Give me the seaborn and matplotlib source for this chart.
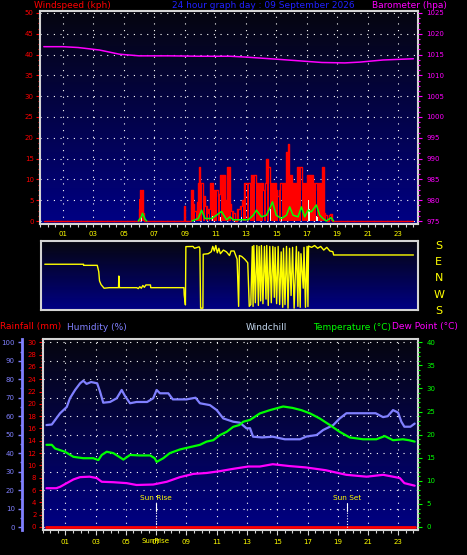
import matplotlib
matplotlib.use("Agg")
import matplotlib.pyplot as plt
from matplotlib.colors import LinearSegmentedColormap
from matplotlib.ticker import MultipleLocator
import numpy as np
import seaborn as sns

#%% data
odd_hours = [1, 3, 5, 7, 9, 11, 13, 15, 17, 19, 21, 23]
hour_labels = ['01', '03', '05', '07', '09', '11', '13', '15', '17', '19', '21', '23']

# windspeed (kph), red bars
gust_h = [-0.25, 5.95, 6.02, 6.06, 6.1, 6.15, 6.2, 6.25, 6.3, 6.35, 8.95, 9.0, 9.05, 9.4, 9.45, 9.5,
          9.56, 9.65, 9.77, 9.85, 9.93, 9.98, 10.05, 10.12, 10.2, 10.25, 10.3, 10.4, 10.5, 10.6,
          10.76, 10.82, 10.88, 10.95, 11.02, 11.1, 11.2, 11.3, 11.38, 11.45, 11.52, 11.6, 11.68,
          11.75, 11.82, 11.9, 11.96, 12.02, 12.1, 12.2, 12.35, 12.55, 12.7, 12.85, 12.94, 13.0,
          13.1, 13.2, 13.3, 13.38, 13.45, 13.52, 13.6, 13.7, 13.78, 13.85, 13.93, 14.0, 14.1, 14.2,
          14.3, 14.4, 14.46, 14.52, 14.6, 14.7, 14.78, 14.85, 14.92, 15.0, 15.1, 15.2, 15.3, 15.38,
          15.45, 15.52, 15.6, 15.67, 15.73, 15.8, 15.87, 15.95, 16.02, 16.1, 16.18, 16.25, 16.32,
          16.4, 16.48, 16.56, 16.62, 16.7, 16.77, 16.85, 16.93, 17.0, 17.08, 17.15, 17.22, 17.3,
          17.38, 17.45, 17.52, 17.6, 17.68, 17.75, 17.83, 17.9, 17.98, 18.02, 18.08, 18.15, 18.25,
          18.35, 18.45, 18.5, 18.6, 18.65, 18.7, 24.0]
gust = [0, 0, 3.0, 5.4, 7.4, 5.0, 7.4, 6.7, 2.0, 0, 0, 3.6, 0, 0, 7.4, 7.4,
        4.0, 2.5, 2.4, 4.5, 9.1, 13.0, 9.1, 9.1, 9.1, 4.5, 6.0, 3.5, 2.0, 3.0,
        9.1, 9.1, 7.4, 6.0, 7.4, 7.4, 6.0, 6.5, 11.0, 11.0, 11.0, 11.0, 5.0,
        5.0, 13.0, 13.0, 13.0, 4.0, 2.5, 2.0, 0, 3.0, 3.5, 5.0, 9.1, 9.1,
        9.1, 9.1, 9.1, 11.0, 9.1, 11.0, 11.0, 9.1, 9.1, 9.1, 7.5, 9.1, 9.1, 7.5,
        9.1, 14.8, 13.0, 13.0, 9.1, 7.5, 9.1, 7.5, 9.1, 7.5, 6.0, 7.5, 9.1, 9.1,
        9.1, 9.1, 9.1, 16.6, 16.6, 18.4, 9.1, 11.0, 11.0, 9.1, 9.1, 9.1, 9.1,
        13.0, 13.0, 13.0, 13.0, 7.5, 9.1, 7.5, 9.1, 7.5, 11.0, 11.0, 11.0, 11.0,
        11.0, 9.1, 7.5, 9.1, 9.1, 7.5, 9.1, 9.1, 7.5, 13.0, 13.0, 2.0, 1.5,
        0, 0, 1.5, 1.8, 1.5, 0, 0]

# average wind (green line), morning and midday spells
avg_am_h = [5.95, 6.05, 6.15, 6.22, 6.3, 6.4, 6.5]
avg_am = [0, 0.5, 1.0, 1.85, 1.2, 0.4, 0]
avg_pm_h = [9.47, 9.88, 10.1, 10.32, 10.76, 11.08, 11.41, 11.74, 11.96, 12.17, 13.16, 13.49, 13.7,
            14.03, 14.36, 14.62, 14.75, 15.0, 15.34, 15.67, 15.88, 16.1, 16.43, 16.65, 16.87,
            17.08, 17.3, 17.63, 17.85, 18.06, 18.28, 18.6, 18.76]
avg_pm = [0, 0.6, 2.6, 0.6, 0.6, 1.4, 2.3, 0.3, 1.0, 0.3, 0.3, 1.4, 2.6,
          1.0, 1.4, 3.4, 4.6, 1.4, 0.6, 1.4, 3.4, 1.4, 1.0, 3.4, 1.0,
          2.6, 2.2, 3.85, 1.4, 0.6, 0, 0.8, 0]

# pale bars
light_h = [6.18, 6.26, 10.84, 11.36, 12.72, 14.6, 15.36, 17.1, 17.16, 17.65, 17.72]
light = [1.4, 1.0, 1.2, 1.0, 1.0, 3.0, 1.0, 5.0, 3.0, 1.2, 1.0]

# barometer (hpa)
baro_h = [-0.25, 1.0, 2.0, 3.4, 4.7, 6.0, 8.0, 10.0, 12.0, 13.0, 15.0, 16.5, 18.0, 19.5, 20.5, 22.0, 24.0]
baro = [1016.9, 1016.9, 1016.7, 1016.1, 1015.1, 1014.7, 1014.7, 1014.6, 1014.6, 1014.4, 1013.9,
        1013.5, 1013.1, 1013.0, 1013.2, 1013.7, 1014.0]

# wind direction (degrees)
dir_h = [-0.25, 2.3, 2.3, 3.2, 3.3, 3.35, 3.45, 3.6, 3.65, 4.0, 4.6, 4.62, 4.66, 5.8, 5.9, 6.0,
         6.1, 6.2, 6.3, 6.4, 6.7, 6.72, 8.9, 8.92, 9.0, 9.03, 9.5, 9.6, 9.9, 9.95, 10.0, 10.15,
         10.17, 10.5, 10.7, 10.8, 10.9, 11.0, 11.1, 11.2, 11.3, 11.5, 11.7, 11.9, 12.0, 12.2,
         12.4, 12.5, 12.55, 12.7, 12.9, 13.1, 13.2, 13.3, 13.4, 13.45, 13.5, 13.6, 13.7, 13.8,
         13.85, 13.95, 14.0, 14.1, 14.2, 14.3, 14.35, 14.45, 14.55, 14.65, 14.75, 14.85, 14.9,
         15.0, 15.1, 15.2, 15.3, 15.4, 15.45, 15.55, 15.65, 15.75, 15.85, 15.95, 16.05, 16.15,
         16.3, 16.4, 16.45, 16.55, 16.6, 16.75, 16.8, 16.9, 17.0, 17.06, 17.1, 17.3, 17.5, 17.7,
         17.9, 18.1, 18.3, 18.5, 18.7, 18.75, 24.0]
dir_deg = [72, 72, 66, 66, 31, 340, 320, 305, 300, 303, 303, 7, 303, 303, 298, 308,
           300, 315, 305, 318, 318, 303, 303, 263, 208, 169, 170, 160, 168, 160, 190, 190,
           127, 130, 141, 170, 145, 175, 135, 160, 130, 150, 140, 120, 145, 145,
           100, 200, 120, 115, 100, 80, 200, 210, 170, 200, 175, 220, 175, 205,
           170, 230, 175, 215, 170, 240, 175, 205, 170, 220, 170, 250, 165,
           215, 170, 210, 140, 195, 160, 210, 170, 190, 160, 260, 165, 190,
           170, 200, 140, 195, 130, 300, 165, 195, 170, 199, 172, 165, 175, 160,
           170, 150, 165, 145, 141, 123, 123]

# humidity (%)
hum_h = [-0.25, 0.1, 0.65, 1.09, 1.3, 1.64, 1.97, 2.18, 2.4, 2.7, 3.1, 3.29, 3.5, 3.95, 4.39,
         4.72, 4.94, 5.27, 5.7, 6.4, 6.8, 7.03, 7.25, 7.8, 8.1, 9.0, 9.6, 9.89, 10.55, 11.0,
         11.43, 12.09, 12.53, 12.97, 13.2, 13.4, 14.0, 14.7, 15.5, 16.5, 16.93, 17.6, 18.03,
         18.7, 19.13, 19.57, 20.0, 21.5, 21.99, 22.3, 22.65, 22.98, 23.2, 23.4, 23.8, 24.08]
humidity = [55.2, 55.5, 61.6, 65.0, 69.7, 74.2, 77.8, 79.2, 77.5, 78.5, 77.8, 73.3, 67.3, 67.7, 69.7,
            74.2, 70.9, 67.0, 67.7, 67.7, 69.7, 74.2, 72.4, 72.4, 69.1, 69.1, 70.0, 67.0, 66.0, 63.3,
            58.8, 57.0, 56.5, 53.4, 53.5, 48.9, 48.5, 48.9, 47.5, 47.5, 49.0, 49.8, 52.5,
            55.2, 58.8, 61.6, 61.6, 61.6, 59.5, 60.0, 63.3, 62.0, 57.0, 54.3, 54.3, 56.0]

# temperature (C)
temp_h = [-0.25, 0.1, 0.32, 0.97, 1.53, 2.18, 2.84, 3.18, 3.4, 3.73, 4.17, 4.6, 4.83, 5.27, 5.9,
          6.6, 6.9, 7.03, 7.47, 7.9, 8.57, 9.23, 9.89, 10.33, 10.77, 11.21, 11.65, 12.09, 12.5,
          12.75, 13.2, 13.85, 14.5, 15.39, 16.0, 16.6, 17.17, 17.81, 18.47, 19.13, 19.79, 20.67,
          21.55, 22.1, 22.65, 23.3, 23.7, 24.08]
temperature = [17.8, 17.8, 17.0, 16.3, 15.2, 14.9, 14.9, 14.5, 15.6, 16.3, 16.0, 15.1, 14.6, 15.6, 15.5,
               15.5, 14.9, 14.1, 14.9, 16.0, 16.8, 17.3, 17.8, 18.5, 18.8, 19.9, 20.6, 21.7, 22.1,
               22.8, 23.2, 24.6, 25.3, 26.1, 25.8, 25.3, 24.6, 23.5, 22.1, 20.6, 19.4, 19.0,
               19.0, 19.7, 18.8, 19.0, 18.8, 18.5]

# dew point (C)
dew_h = [-0.25, 0.4, 0.65, 1.09, 1.53, 1.97, 2.6, 3.07, 3.4, 4.17, 5.05, 5.7, 6.8, 7.7, 8.57, 9.45,
         10.33, 11.21, 12.09, 13.08, 13.85, 14.7, 15.8, 16.9, 18.2, 19.57, 20.9, 22.0, 22.65,
         23.1, 23.4, 24.08]
dew_point = [8.4, 8.4, 8.7, 9.5, 10.3, 10.8, 10.9, 10.6, 9.8, 9.7, 9.5, 9.1, 9.2, 9.8, 10.8, 11.5,
             11.7, 12.1, 12.6, 13.1, 13.1, 13.6, 13.2, 12.9, 12.3, 11.3, 10.9, 11.3, 10.9,
             10.6, 9.5, 8.95]

# rainfall (mm)
rain_h = [-0.25, 24.08]
rain = [0.0, 0.0]

sunrise = 6.96
sunset = 19.64

#%% colours
RED = '#ff0000'
MAG = '#ff00ff'
HUM = '#8080ff'
GREEN = '#00ff00'
YEL = '#ffff00'
FRAME = '#d4d4d4'
DOTS = dict(color='white', linestyle=(0, (1, 5)), linewidth=0.8)

sns.set_style("ticks")
plt.rcParams['font.family'] = ['DejaVu Sans']

W, H = 467, 555
fig = plt.figure(figsize=(W / 100, H / 100), dpi=100, facecolor='black')


def box(l, t, r, b):
    return [l / W, 1 - b / H, (r - l) / W, (b - t) / H]


bg = LinearSegmentedColormap.from_list('bg', ['#000084', '#06060f'])


def paint(ax):
    ax.set_facecolor('black')
    ax.imshow(np.linspace(0, 1, 200)[:, None], cmap=bg, origin='lower', extent=(0, 1, 0, 1),
              transform=ax.transAxes, aspect='auto', zorder=0)
    for s in ax.spines.values():
        s.set_color(FRAME)
        s.set_linewidth(1.5)


def hide_spines(ax, keep=()):
    for name, s in ax.spines.items():
        s.set_visible(name in keep)


line_kw = dict(estimator=None, sort=False, errorbar=None)

#%% wind / barometer panel
ax_w = fig.add_axes(box(40, 10.7, 418, 224))
paint(ax_w)
ax_w.bar(gust_h, gust, width=0.07, color=RED, linewidth=0, zorder=2)
sns.lineplot(x=gust_h, y=gust, ax=ax_w, color=RED, linewidth=1.0, drawstyle='steps-mid', zorder=3, **line_kw)
ax_w.bar(light_h, light, width=0.06, color='#e6ffe6', linewidth=0, zorder=3)
sns.lineplot(x=avg_am_h, y=avg_am, ax=ax_w, color=GREEN, linewidth=1.1, zorder=4, **line_kw)
sns.lineplot(x=avg_pm_h, y=avg_pm, ax=ax_w, color=GREEN, linewidth=1.1, zorder=4, **line_kw)
ax_w.set_xlim(-0.5, 24.3)
ax_w.set_ylim(-0.72, 50.55)
ax_w.yaxis.set_major_locator(MultipleLocator(5))
ax_w.yaxis.set_minor_locator(MultipleLocator(1.25))
ax_w.set_xticks(odd_hours, hour_labels)
ax_w.xaxis.set_minor_locator(MultipleLocator(0.5))
ax_w.tick_params(axis='y', which='both', color=RED, labelcolor=RED, labelsize=5, pad=1.5, width=0.8)
ax_w.tick_params(axis='y', which='major', length=3)
ax_w.tick_params(axis='y', which='minor', length=1.5)
ax_w.tick_params(axis='x', which='both', color=FRAME, labelcolor=YEL, labelsize=5, length=2.5, pad=2.5, width=0.8)
ax_w.grid(True, which='major', **DOTS)
ax_w.set_xlabel('')
ax_w.set_ylabel('')

ax_b = ax_w.twinx()
hide_spines(ax_b)
sns.lineplot(x=baro_h, y=baro, ax=ax_b, color=MAG, linewidth=1.1, **line_kw)
ax_b.set_ylim(974.28, 1025.55)
ax_b.yaxis.set_major_locator(MultipleLocator(5))
ax_b.yaxis.set_minor_locator(MultipleLocator(1.25))
ax_b.tick_params(axis='y', which='both', color=MAG, labelcolor=MAG, labelsize=5, pad=3, width=0.8)
ax_b.tick_params(axis='y', which='major', length=3)
ax_b.tick_params(axis='y', which='minor', length=1.5)
ax_b.set_ylabel('')

#%% wind direction panel
ax_d = fig.add_axes(box(41, 241, 418, 310))
paint(ax_d)
dir_plot = [d + 360 if d < 180 else d for d in dir_deg]
sns.lineplot(x=dir_h, y=dir_plot, ax=ax_d, color=YEL, linewidth=1.0, **line_kw)
ax_d.set_xlim(-0.5, 24.3)
ax_d.set_ylim(180, 560)
ax_d.set_xticks([])
ax_d.yaxis.tick_right()
ax_d.set_yticks([180, 270, 360, 450, 540], ['S', 'W', 'N', 'E', 'S'])
ax_d.tick_params(axis='y', length=0, pad=15, labelsize=8, labelcolor=YEL)
for t in ax_d.get_yticklabels():
    t.set_horizontalalignment('center')
ax_d.set_ylabel('')

#%% humidity / rain / temperature panel
ax_r = fig.add_axes(box(42.7, 339, 418, 530))
paint(ax_r)
sns.lineplot(x=hum_h, y=humidity, ax=ax_r, color=HUM, linewidth=1.6, zorder=3, **line_kw)
ax_r.set_xlim(-0.5, 24.3)
ax_r.set_ylim(-1.62, 101.8)
ax_r.yaxis.set_major_locator(MultipleLocator(10))
ax_r.yaxis.set_minor_locator(MultipleLocator(5))
ax_r.set_xticks(odd_hours, hour_labels)
ax_r.xaxis.set_minor_locator(MultipleLocator(0.5))
ax_r.spines['left'].set_position(('outward', 15.1))
ax_r.spines['left'].set_color(HUM)
ax_r.spines['left'].set_linewidth(2)
ax_r.tick_params(axis='y', which='both', color=HUM, labelcolor=HUM, labelsize=5, pad=2, width=1)
ax_r.tick_params(axis='y', which='major', length=3)
ax_r.tick_params(axis='y', which='minor', length=1.5)
ax_r.tick_params(axis='x', which='both', color=FRAME, labelcolor=YEL, labelsize=5, pad=3, width=0.8)
ax_r.tick_params(axis='x', which='major', length=3.5)
ax_r.tick_params(axis='x', which='minor', length=2)
ax_r.grid(True, which='major', **DOTS)
ax_r.set_xlabel('')
ax_r.set_ylabel('')

ax_rain = ax_r.twinx()
ax_rain.yaxis.tick_left()
hide_spines(ax_rain, keep=('left',))
ax_rain.spines['left'].set_color(FRAME)
ax_rain.spines['left'].set_linewidth(1.5)
sns.lineplot(x=rain_h, y=rain, ax=ax_rain, color=RED, linewidth=2.0, **line_kw)
ax_rain.set_ylim(-0.49, 30.54)
ax_rain.yaxis.set_major_locator(MultipleLocator(2))
ax_rain.yaxis.set_minor_locator(MultipleLocator(0.5))
ax_rain.tick_params(axis='y', which='both', color=RED, labelcolor=RED, labelsize=5, pad=1.5, width=0.8)
ax_rain.tick_params(axis='y', which='major', length=3)
ax_rain.tick_params(axis='y', which='minor', length=1.5)
ax_rain.set_ylabel('')

ax_t = ax_r.twinx()
hide_spines(ax_t)
sns.lineplot(x=temp_h, y=temperature, ax=ax_t, color=GREEN, linewidth=1.6, **line_kw)
sns.lineplot(x=dew_h, y=dew_point, ax=ax_t, color=MAG, linewidth=1.6, **line_kw)
ax_t.set_ylim(-0.65, 40.72)
ax_t.yaxis.set_major_locator(MultipleLocator(5))
ax_t.yaxis.set_minor_locator(MultipleLocator(1))
ax_t.tick_params(axis='y', which='both', color=GREEN, labelcolor=GREEN, labelsize=5, pad=3, width=0.8)
ax_t.tick_params(axis='y', which='major', length=3)
ax_t.tick_params(axis='y', which='minor', length=1.5)
ax_t.set_ylabel('')

# sun rise / sun set markers
for hour, name in [(sunrise, 'Sun Rise'), (sunset, 'Sun Set')]:
    ax_t.axvline(hour, ymin=0.0, ymax=0.14, color='white', linestyle=(0, (1, 1.5)), linewidth=0.8)
    ax_t.axvline(hour, ymin=0.1, ymax=0.14, color='white', linewidth=0.8)
    ax_t.text(hour, 0.17, name, transform=ax_t.get_xaxis_transform(), color=YEL, fontsize=5.3,
              ha='center', va='center')
ax_t.text(sunrise, -0.058, 'SunRise', transform=ax_t.get_xaxis_transform(), color=YEL, fontsize=5,
          ha='center', va='center')

#%% header texts
def head(x, y, s, c):
    fig.text(x / W, 1 - y / H, s, color=c, fontsize=6.5, ha='left', va='center')


head(34, 6, 'Windspeed (kph)', RED)
head(172, 6, '24 hour graph day : 09 September 2026', '#2020ff')
head(372, 6, 'Barometer (hpa)', MAG)
head(0, 327, 'Rainfall (mm)', RED)
head(67, 327, 'Humidity (%)', HUM)
head(246, 327, 'Windchill', '#c4d8f0')
head(313, 327, 'Temperature (°C)', GREEN)
head(392, 327, 'Dew Point (°C)', MAG)

plt.savefig('out.png', dpi=100, facecolor='black')
